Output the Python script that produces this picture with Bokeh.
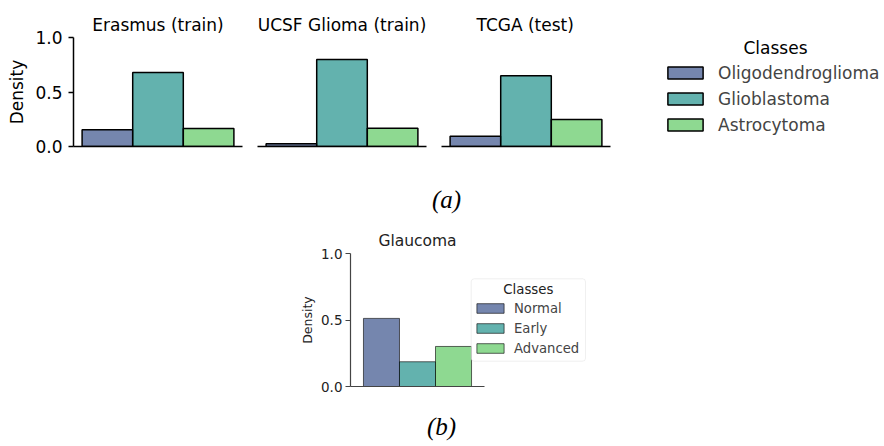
import math
from bokeh.plotting import figure
from bokeh.layouts import row, column
from bokeh.models import (Range1d, FixedTicker, PrintfTickFormatter, Label, Legend,
                          LegendItem, BoxAnnotation)
from bokeh.embed import file_html
from bokeh.resources import INLINE

# ---------------- data ----------------
brain_classes = ["Oligodendroglioma", "Glioblastoma", "Astrocytoma"]
brain_panels = ["Erasmus (train)", "UCSF Glioma (train)", "TCGA (test)"]
erasmus = [0.153, 0.679, 0.165]
ucsf = [0.025, 0.798, 0.168]
tcga = [0.094, 0.648, 0.248]

glaucoma_title = "Glaucoma"
glaucoma_classes = ["Normal", "Early", "Advanced"]
glaucoma = [0.512, 0.186, 0.301]

y_ticks = [0.0, 0.5, 1.0]
legend_title = "Classes"
y_label = "Density"
captions = ["(a)", "(b)"]

palette = ["#3b528b", "#21918c", "#5ec962"]
FONT = "DejaVu Sans"
CAP_FONT = "Liberation Serif"
xpos = [0, 1, 2]

TOP_X0, TOP_X1 = -0.67, 2.67          # bar-panel x extent (top row)
TOP_PX = 169.0 / (TOP_X1 - TOP_X0)    # px per unit
TOP_FRAME_H = 109.0
ROW1_H = 163


def style_common(p):
    p.xgrid.visible = False
    p.ygrid.visible = False
    p.outline_line_color = None
    p.background_fill_color = "white"
    p.border_fill_color = "white"


def centered_label(x, y, text, size, color, font=FONT, style="normal", angle=0.0):
    lab = Label(x=x, y=y, text=text, text_align="center", text_baseline="middle",
                text_font=font, text_font_size=size, text_font_style=style,
                text_color=color, angle=angle)
    try:
        lab.anchor = "center"
    except Exception:
        pass
    return lab


def make_top(title, values, show_y, width, mbl, mbr, x_end, t_align, t_off):
    p = figure(width=width, height=ROW1_H,
               x_range=Range1d(TOP_X0, x_end), y_range=Range1d(0, 1),
               output_backend="svg", toolbar_location=None,
               min_border_left=mbl, min_border_right=mbr,
               min_border_top=37, min_border_bottom=ROW1_H - 146,
               y_axis_location="left" if show_y else None)
    style_common(p)
    r = p.vbar(x=xpos, top=values, width=1, bottom=0,
               fill_color=palette, fill_alpha=0.7,
               line_color="black", line_width=1.5)
    xa = p.xaxis[0]
    xa.ticker = FixedTicker(ticks=[])
    xa.major_tick_line_color = None
    xa.minor_tick_line_color = None
    xa.major_label_text_font_size = "0px"
    xa.axis_line_color = "black"
    xa.axis_line_width = 1.5
    xa.bounds = (TOP_X0, TOP_X1)
    if show_y:
        ya = p.yaxis[0]
        ya.ticker = FixedTicker(ticks=y_ticks)
        ya.formatter = PrintfTickFormatter(format="%.1f")
        ya.major_tick_out = 5
        ya.major_tick_in = 0
        ya.major_tick_line_width = 1.5
        ya.major_tick_line_color = "black"
        ya.minor_tick_line_color = None
        ya.axis_line_color = "black"
        ya.axis_line_width = 1.5
        ya.major_label_text_font = FONT
        ya.major_label_text_font_size = "17px"
        ya.major_label_text_color = "black"
        ya.major_label_standoff = 6
        ya.axis_label = y_label
        ya.axis_label_text_font = FONT
        ya.axis_label_text_font_size = "17px"
        ya.axis_label_text_font_style = "normal"
        ya.axis_label_text_color = "black"
        ya.axis_label_standoff = 5
    t = p.title
    t.text = title
    t.text_font = FONT
    t.text_font_size = "17px"
    t.text_font_style = "normal"
    t.text_color = "black"
    t.align = t_align
    t.offset = t_off
    t.standoff = 6
    return p, r


f1, _ = make_top(brain_panels[0], erasmus, True, 249, 73, 7, TOP_X1, "center", 0)
f2, _ = make_top(brain_panels[1], ucsf, False, 184, 8, 7, TOP_X1, "center", 0)
# third panel frame is widened so that the class legend fits inside it
f3_frame_w = 884 - 433 - 8
f3, r3 = make_top(brain_panels[2], tcga, False, 451, 8, 0,
                  TOP_X0 + f3_frame_w / TOP_PX, "left", 35)

items = [LegendItem(label=c, renderers=[r3], index=i) for i, c in enumerate(brain_classes)]
leg_top = Legend(items=items, location=(222, 11.5),
                 label_text_font=FONT, label_text_font_size="17px",
                 glyph_width=44, glyph_height=15, label_standoff=11,
                 label_height=20, spacing=6, padding=0, margin=0,
                 border_line_color=None, background_fill_alpha=0)
f3.add_layout(leg_top)
f3.add_layout(centered_label(TOP_X0 + (775 - 441) / TOP_PX, (146 - 47) / TOP_FRAME_H,
                             legend_title, "17px", "black"))

# bottom panel (b); its frame also spans the caption areas and the y-label
B_X0, B_X1 = -0.86, 2.86
B_PX = 134.0 / (B_X1 - B_X0)
B_AX_L, B_Y0_PX, B_PY = 350.0, 386.0, 133.0   # y-axis x, y=0 row, px per unit
FB_TOP, FB_BOT = ROW1_H, 446
FB_LEFT, FB_RIGHT = 290, 592


def bx(px):
    return B_X0 + (px - B_AX_L) / B_PX


def by(py):
    return (B_Y0_PX - py) / B_PY


fb = figure(width=884, height=FB_BOT - FB_TOP, title=None,
            x_range=Range1d(bx(FB_LEFT), bx(FB_RIGHT)),
            y_range=Range1d(by(FB_BOT), by(FB_TOP)),
            output_backend="svg", toolbar_location=None,
            min_border_left=FB_LEFT, min_border_right=884 - FB_RIGHT,
            min_border_top=0, min_border_bottom=0)
style_common(fb)
rb = []
for i, c in enumerate(glaucoma_classes):
    r = fb.vbar(x=[xpos[i]], top=[glaucoma[i]], width=1, bottom=0,
                fill_color=palette[i], fill_alpha=0.7,
                line_color="black", line_alpha=0.6, line_width=1)
    rb.append(LegendItem(label=c, renderers=[r]))
xa = fb.xaxis[0]
xa.ticker = FixedTicker(ticks=[])
xa.major_tick_line_color = None
xa.minor_tick_line_color = None
xa.major_label_text_font_size = "0px"
xa.axis_line_color = "#444444"
xa.axis_line_width = 1.2
xa.bounds = (B_X0, B_X1)
xa.fixed_location = 0
ya = fb.yaxis[0]
ya.ticker = FixedTicker(ticks=y_ticks)
ya.formatter = PrintfTickFormatter(format="%.1f")
ya.bounds = (0, 1)
ya.fixed_location = B_X0
ya.major_tick_out = 5
ya.major_tick_in = 0
ya.major_tick_line_width = 1.2
ya.major_tick_line_color = "#444444"
ya.minor_tick_line_color = None
ya.axis_line_color = "#444444"
ya.axis_line_width = 1.2
ya.major_label_text_font = FONT
ya.major_label_text_font_size = "13.5px"
ya.major_label_text_color = "#222222"
ya.major_label_standoff = 3

fb.add_layout(centered_label(bx(307), 0.5, y_label, "12.5px", "#222222",
                             angle=math.pi / 2))
fb.add_layout(centered_label(1.0, by(240), glaucoma_title, "15.5px", "#222222"))
fb.add_layout(centered_label(bx(446), by(199), captions[0], "25px", "black",
                             font=CAP_FONT, style="italic"))
fb.add_layout(centered_label(bx(441), by(426), captions[1], "25px", "black",
                             font=CAP_FONT, style="italic"))

# legend frame (white, semi-opaque, rounded), then entries and title
fb.add_layout(BoxAnnotation(left=bx(470.7), right=bx(585.0), top=by(278.3), bottom=by(360.7),
                            fill_color="white", fill_alpha=0.8,
                            line_color="#cccccc", line_width=1, border_radius=3))
leg_b = Legend(items=rb, location=(123 + (B_AX_L - FB_LEFT), 30 + (FB_BOT - B_Y0_PX)),
               label_text_font=FONT, label_text_font_size="13.2px",
               glyph_width=34, glyph_height=12, label_standoff=7,
               label_height=16, spacing=4, padding=0, margin=0,
               border_line_color=None, background_fill_alpha=0)
fb.add_layout(leg_b)
fb.add_layout(centered_label(bx(527.8), by(289), legend_title, "13.3px", "#222222"))

layout = column(row(f1, f2, f3), fb)
open("out.html", "w").write(file_html(layout, INLINE))
